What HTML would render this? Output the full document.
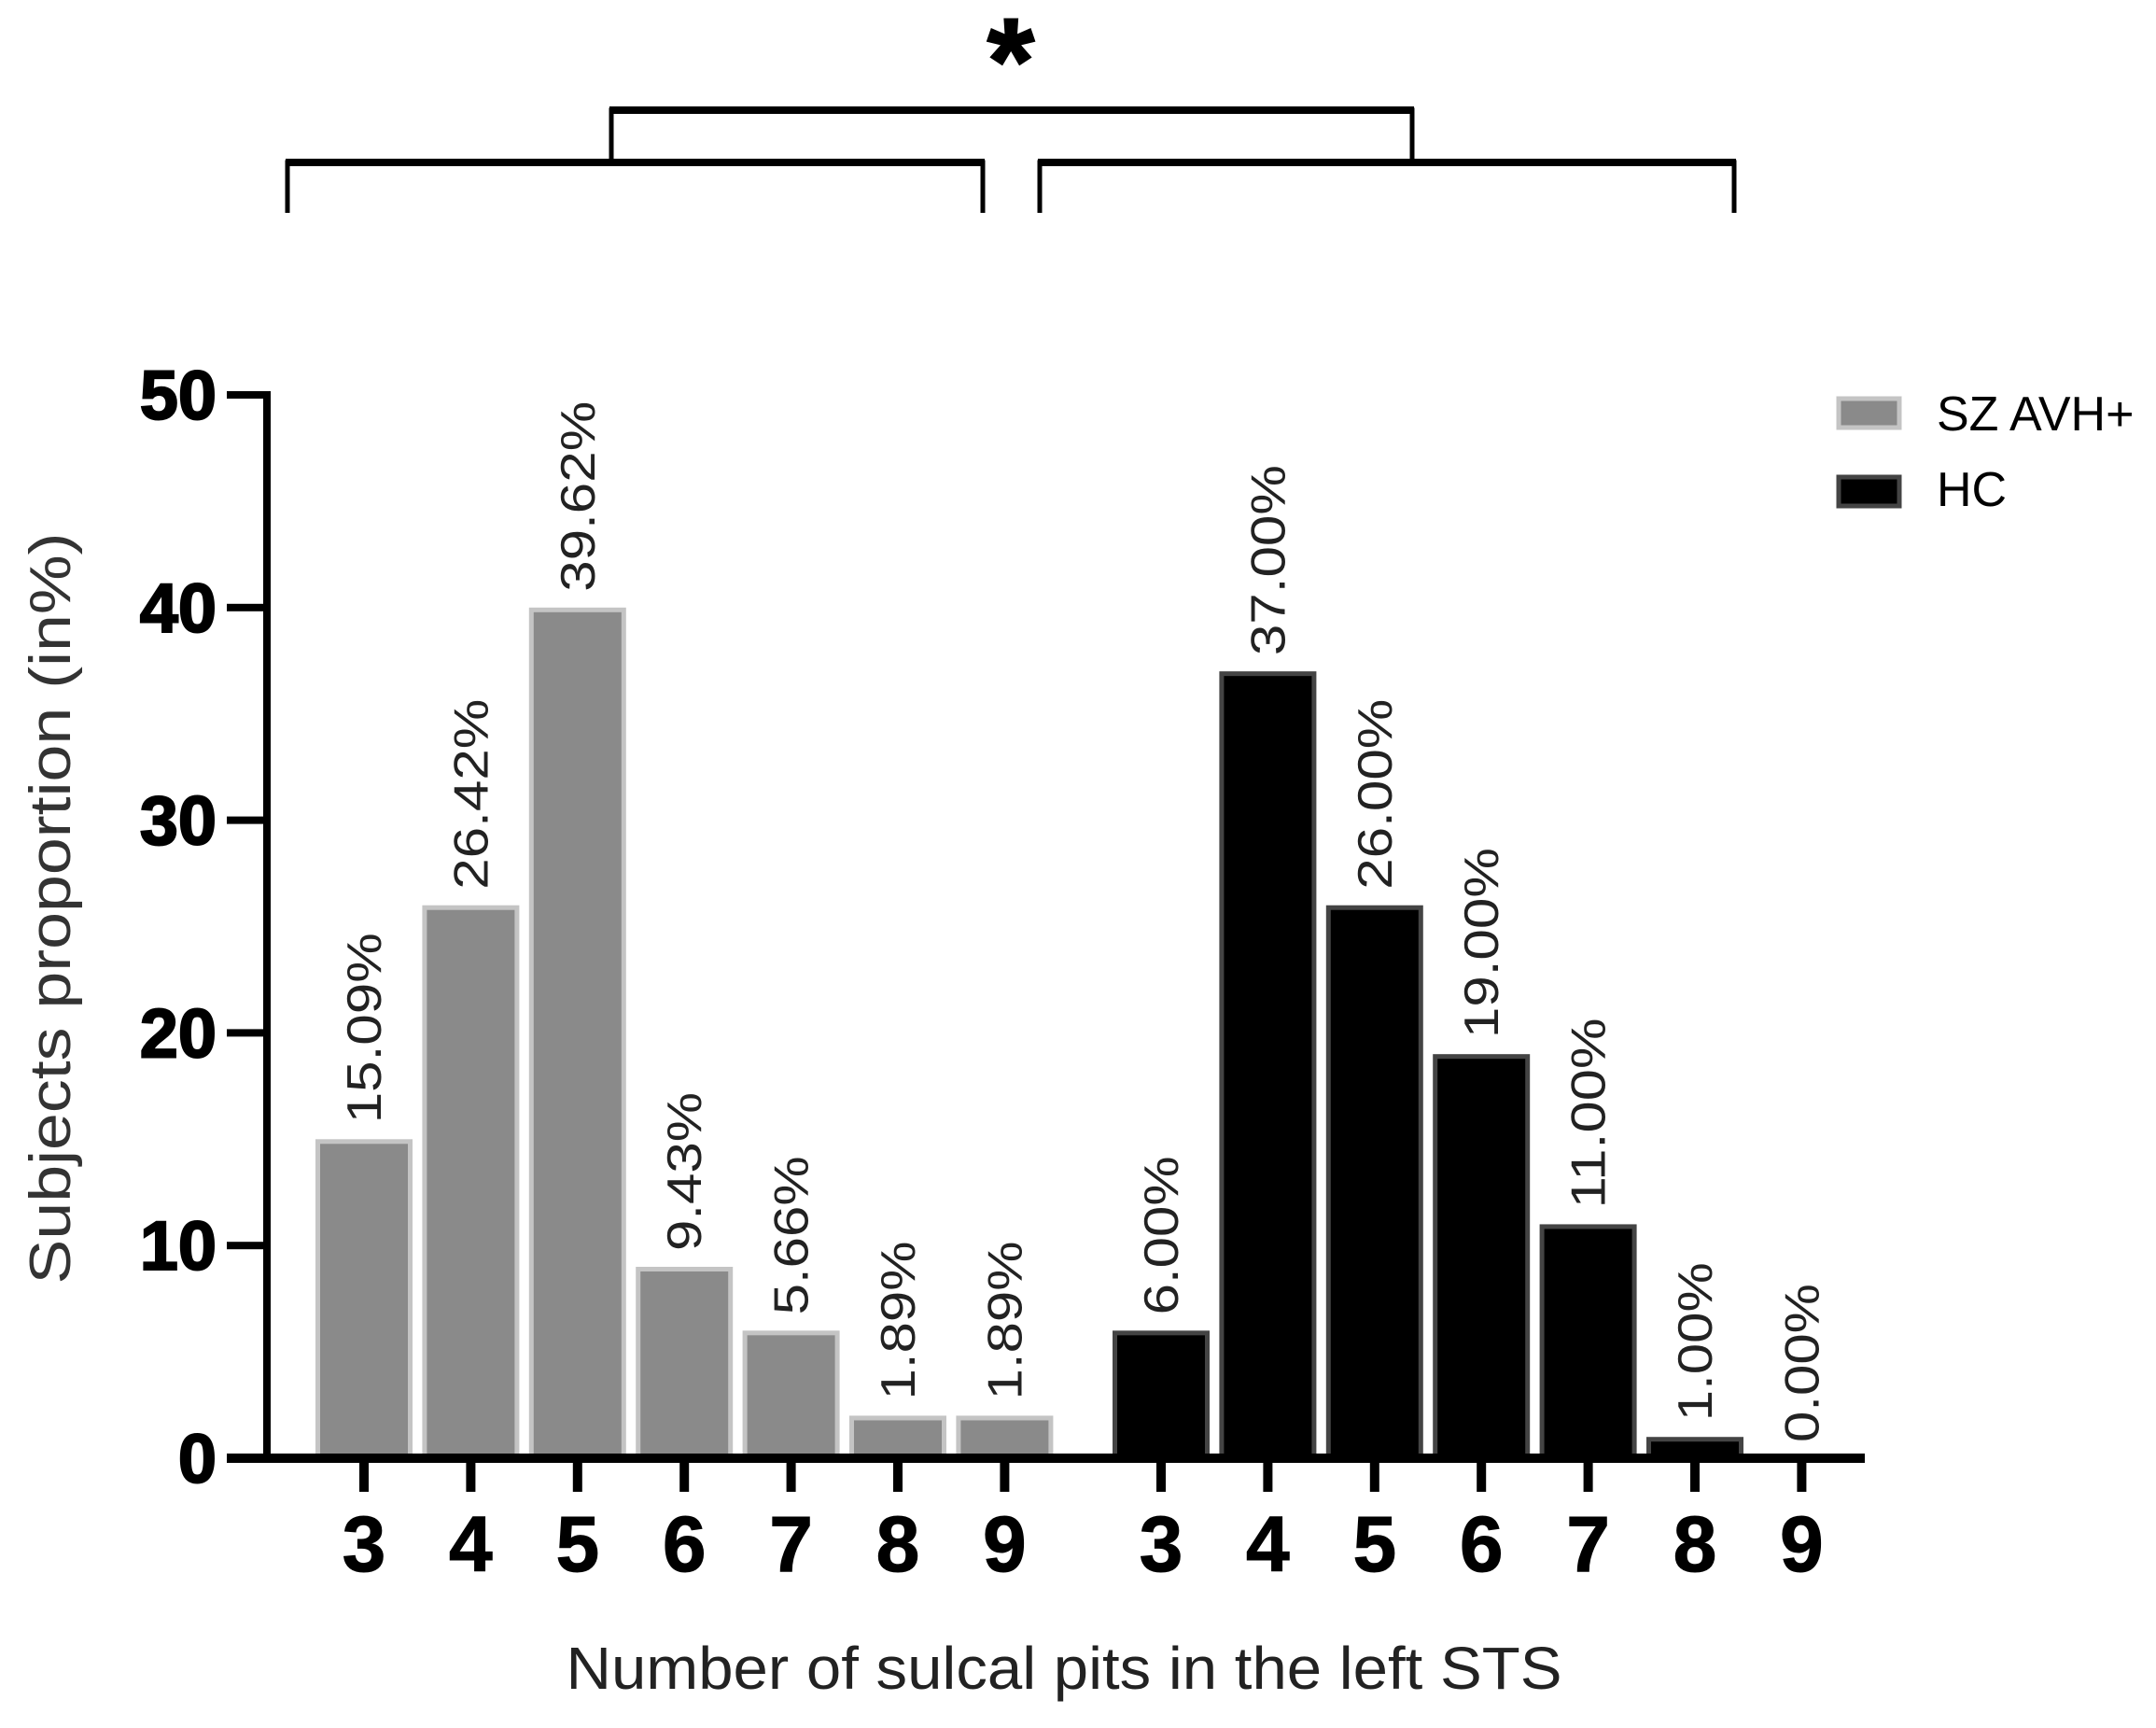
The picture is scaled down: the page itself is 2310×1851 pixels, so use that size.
<!DOCTYPE html>
<html><head><meta charset="utf-8"><style>
html,body{margin:0;padding:0;background:#fff;}
svg{display:block;}
</style></head><body>
<svg id="chart" width="2310" height="1851" viewBox="0 0 2310 1851" xmlns="http://www.w3.org/2000/svg">
<g id="brackets" stroke="#000" fill="none">
  <path d="M308 228 V174 H1053 V228" stroke-width="5"/>
  <path d="M1114 228 V174 H1858 V228" stroke-width="5"/>
  <line x1="306" y1="174" x2="1055" y2="174" stroke-width="8"/>
  <line x1="1112" y1="174" x2="1860" y2="174" stroke-width="8"/>
  <path d="M655 174 V118 H1513 V174" stroke-width="5"/>
  <line x1="653" y1="118" x2="1515" y2="118" stroke-width="8"/>
</g>
<text x="1083" y="110" text-anchor="middle" font-family="Liberation Sans, sans-serif" font-weight="bold" font-size="130" fill="#000" stroke="#000" stroke-width="2">*</text>
<g id="bars"></g>
<g id="axes"></g>
<text transform="translate(75,973) rotate(-90)" text-anchor="middle" font-family="Liberation Sans, sans-serif" font-size="62" fill="#333" textLength="805" lengthAdjust="spacingAndGlyphs">Subjects proportion (in%)</text>
<text x="1140" y="1809" text-anchor="middle" font-family="Liberation Sans, sans-serif" font-size="64" fill="#222" textLength="1067" lengthAdjust="spacingAndGlyphs">Number of sulcal pits in the left STS</text>
<g>
  <rect x="1970" y="427" width="65" height="31" fill="#8a8a8a" stroke="#c4c4c4" stroke-width="5"/>
  <text x="2075" y="461" font-family="Liberation Sans, sans-serif" font-size="52" fill="#000">SZ AVH+</text>
  <rect x="1970" y="511" width="65" height="31" fill="#000" stroke="#444" stroke-width="5"/>
  <text x="2075" y="542" font-family="Liberation Sans, sans-serif" font-size="52" fill="#000">HC</text>
</g>
</svg>
<script>
const categories = ["3","4","5","6","7","8","9"];
const szValues = [15, 26, 40, 9, 6, 2, 2];
const szLabels = ["15.09%","26.42%","39.62%","9.43%","5.66%","1.89%","1.89%"];
const hcValues = [6, 37, 26, 19, 11, 1, 0];
const hcLabels = ["6.00%","37.00%","26.00%","19.00%","11.00%","1.00%","0.00%"];
const yTicks = [0, 10, 20, 30, 40, 50];

const NS = "http://www.w3.org/2000/svg";
const y0 = 1562, yPer = 22.78;
function yScale(v){ return y0 - v * yPer; }
const step = 114.4;
function xScale(g, i){ return (g === 0 ? 390 : 1244) + i * step; }
const barW = 104, border = 5;

function mk(tag, attrs){ const e = document.createElementNS(NS, tag); for (const k in attrs) e.setAttribute(k, attrs[k]); return e; }
const barsG = document.getElementById('bars');
const axesG = document.getElementById('axes');

function drawGroup(g, vals, labels, fill, stroke, key){
  vals.forEach((v, i) => {
    const cx = xScale(g, i), top = yScale(v);
    if (v > 0) {
      const outer = mk('rect', {x: cx - barW/2, y: top, width: barW, height: y0 - top, fill: stroke});
      
      
      barsG.appendChild(outer);
      const h = Math.max(0, y0 - top - border);
      const inner = mk('rect', {x: cx - barW/2 + border, y: top + border, width: barW - 2*border, height: h, fill: fill});
      
      
      barsG.appendChild(inner);
    }
    const lb = top - 17;
    const t = mk('text', {transform: 'translate(' + (cx + 18) + ',' + lb + ') rotate(-90)', 'font-family': 'Liberation Sans, sans-serif', 'font-size': '52', fill: '#222', textLength: labels[i].length * 34, lengthAdjust: 'spacingAndGlyphs'});
    t.textContent = labels[i];
    
    
    barsG.appendChild(t);
    const tick = mk('rect', {x: cx - 5, y: y0, width: 10, height: 36, fill: '#000'});
    
    
    axesG.appendChild(tick);
    const tl = mk('text', {x: cx, y: 1683, 'text-anchor': 'middle', 'font-family': 'Liberation Sans, sans-serif', 'font-weight': 'bold', 'font-size': '84', fill: '#000', stroke: '#000', 'stroke-width': '1'});
    tl.textContent = categories[i];
    
    
    axesG.appendChild(tl);
  });
}
drawGroup(0, szValues, szLabels, '#8a8a8a', '#c4c4c4', 'sz');
drawGroup(1, hcValues, hcLabels, '#000', '#444', 'hc');

const yAxis = mk('rect', {x: 282, y: yScale(50) - 4, width: 8, height: y0 - yScale(50) + 9, fill: '#000'});


axesG.appendChild(yAxis);
const xAxis = mk('rect', {x: 243, y: y0 - 5, width: 1755, height: 10, fill: '#000'});


axesG.appendChild(xAxis);
yTicks.forEach(v => {
  const y = yScale(v);
  const tk = mk('rect', {x: 243, y: y - 4, width: 43, height: 8, fill: '#000'});
  
  
  axesG.appendChild(tk);
  const tl = mk('text', {x: 232, y: y + 26, 'text-anchor': 'end', 'font-family': 'Liberation Sans, sans-serif', 'font-weight': 'bold', 'font-size': '74', fill: '#000', stroke: '#000', 'stroke-width': '2'});
  tl.textContent = String(v);
  
  
  axesG.appendChild(tl);
});
</script>
</body></html>
